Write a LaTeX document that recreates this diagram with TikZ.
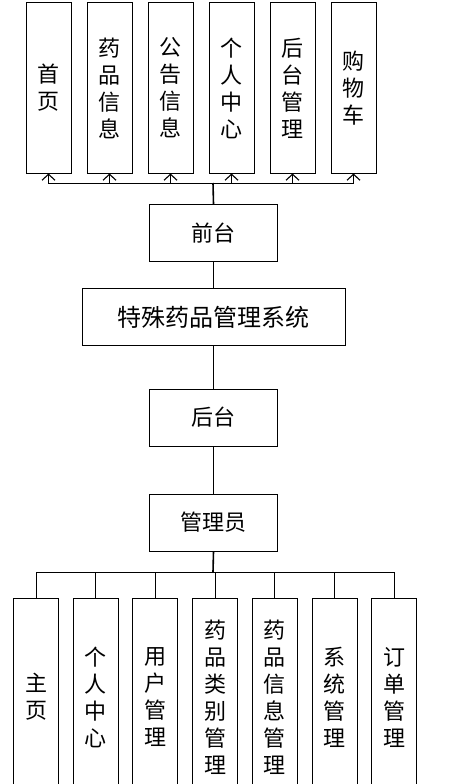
\documentclass[tikz,border=0pt]{standalone}
\usepackage{fontspec}
\newfontfamily\cjk{Noto Sans CJK SC}
\usepackage{tikz}
\usetikzlibrary{positioning, arrows.meta}

\begin{document}
\begin{tikzpicture}[x=1pt, y=-1pt, >={Straight Barb[length=6pt,width=13pt,line width=1.1pt]},
  vbox/.style={draw,line width=1pt,minimum width=45pt,inner sep=0pt,align=center,font=\cjk\fontsize{22}{27}\selectfont},
  hbox/.style={draw,line width=1pt,minimum width=128pt,minimum height=57pt,inner sep=0pt,align=center,font=\cjk\fontsize{22}{27}\selectfont},
  trunk/.style={line width=1.6pt},
  link/.style={line width=1pt}]
  \useasboundingbox (0,0) rectangle (450,784);
  \begin{scope}
  \clip (0,0) rectangle (450,784);
  % front end
  \node[vbox, minimum height=170pt] (qt1) at (48.5,88) {首\\页};
  \node[vbox, minimum height=170pt, right=15pt of qt1] (qt2) {药\\品\\信\\息};
  \node[vbox, minimum height=170pt, right=15pt of qt2] (qt3) {公\\告\\信\\息};
  \node[vbox, minimum height=170pt, right=15pt of qt3] (qt4) {个\\人\\中\\心};
  \node[vbox, minimum height=170pt, right=15pt of qt4] (qt5) {后\\台\\管\\理};
  \node[vbox, minimum height=170pt, right=15pt of qt5] (qt6) {购\\物\\车};
  \node[hbox] (qt) at (213.5,233) {前台};
  \node[hbox, minimum width=263pt, font=\cjk\fontsize{24}{27}\selectfont] (sys) at (213.5,317) {特殊药品管理系统};
  \node[hbox] (ht) at (213.5,417.5) {后台};
  \node[hbox] (adm) at (213.5,522.5) {管理员};
  % back end
  \node[vbox, minimum height=198pt] (gl1) at (36,697) {主\\页};
  \node[vbox, minimum height=198pt, right=13.7pt of gl1] (gl2) {个\\人\\中\\心};
  \node[vbox, minimum height=198pt, right=13.7pt of gl2] (gl3) {用\\户\\管\\理};
  \node[vbox, minimum height=198pt, right=13.7pt of gl3] (gl4) {药\\品\\类\\别\\管\\理};
  \node[vbox, minimum height=198pt, right=13.7pt of gl4] (gl5) {药\\品\\信\\息\\管\\理};
  \node[vbox, minimum height=198pt, right=13.7pt of gl5] (gl6) {系\\统\\管\\理};
  \node[vbox, minimum height=198pt, right=13.7pt of gl6] (gl7) {订\\单\\管\\理};

  \coordinate (tbus) at (213,183);
  \coordinate (bbus) at (213,572);
  \draw[trunk] (qt.north) -- (tbus);
  \draw[->,link] (tbus) -| (qt1.south);
  \draw[->,link] (tbus) -| (qt2.south);
  \draw[->,link] (tbus) -| (qt3.south);
  \draw[->,link] (tbus) -| (qt4.south);
  \draw[->,link] (tbus) -| (qt5.south);
  \draw[->,link] (tbus) -| (qt6.south);
  \draw[trunk] (qt) -- (sys);
  \draw[trunk] (sys) -- (ht);
  \draw[trunk] (ht) -- (adm);
  \draw[trunk] (adm.south) -- (bbus);
  \draw[link] (bbus) -| (gl1.north);
  \draw[link] (bbus) -| (gl2.north);
  \draw[link] (bbus) -| (gl3.north);
  \draw[link] (bbus) -| (gl4.north);
  \draw[link] (bbus) -| (gl5.north);
  \draw[link] (bbus) -| (gl6.north);
  \draw[link] (bbus) -| (gl7.north);
  \end{scope}
\end{tikzpicture}
\end{document}
